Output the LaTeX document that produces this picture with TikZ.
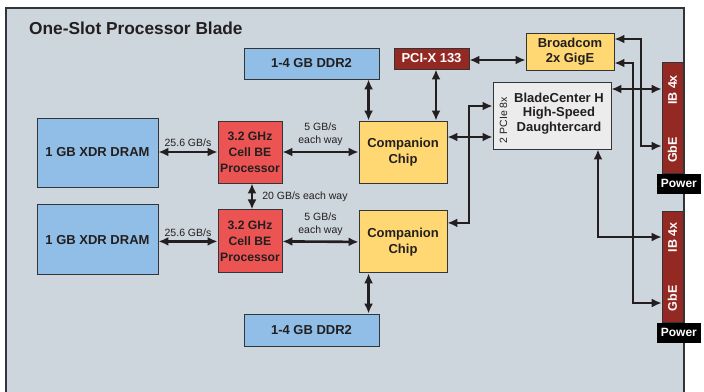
\documentclass[tikz,border=0pt]{standalone}
\usepackage{fontspec}
\setmainfont{Liberation Sans}
\usepackage{tikz}
\usetikzlibrary{positioning,calc,arrows.meta}
\definecolor{panelgray}{RGB}{205,213,221}
\definecolor{edgegray}{RGB}{50,52,56}
\definecolor{inkdark}{RGB}{35,31,32}
\definecolor{memblue}{RGB}{144,190,230}
\definecolor{cellred}{RGB}{236,84,84}
\definecolor{chipyellow}{RGB}{255,216,115}
\definecolor{portred}{RGB}{148,40,34}
\definecolor{cardgray}{RGB}{236,236,236}

\begin{document}
\begin{tikzpicture}[
  x=1pt, y=-1pt,
  every node/.style={align=center, inner sep=0pt, text=inkdark},
  box/.style={rectangle, draw=edgegray, line width=0.9pt, font=\fontsize{13}{15.5}\selectfont\bfseries},
  mem/.style={box, fill=memblue},
  cpu/.style={box, fill=cellred, minimum width=64pt, font=\fontsize{12.2}{16}\selectfont\bfseries},
  chip/.style={box, fill=chipyellow},
  pci/.style={box, fill=portred, text=white},
  card/.style={box, fill=cardgray, font=\fontsize{13}{14.5}\selectfont\bfseries},
  bar/.style={rectangle, fill=portred, draw=edgegray, line width=0.6pt, minimum width=21pt, minimum height=111pt},
  barlabel/.style={rotate=90, text=white, font=\fontsize{12.5}{14}\selectfont\bfseries},
  pwr/.style={rectangle, fill=black, text=white, minimum width=44pt, minimum height=20pt, font=\fontsize{12}{14}\selectfont\bfseries},
  rate/.style={font=\fontsize{10.5}{13}\selectfont},
  arr/.style={{Latex[length=10pt,width=9pt]}-{Latex[length=10pt,width=9pt]}, line width=2.6pt, draw=inkdark}
]
\useasboundingbox (0,0) rectangle (704,391);
% Blade panel
\fill[panelgray] (6,8) rectangle (684,392);
\draw[edgegray, line width=1.2pt] (6,392) -- (6,8) -- (684,8) -- (684,392);
\node[anchor=west, font=\fontsize{17.3}{20}\selectfont\bfseries] (title) at (29,28) {One-Slot Processor Blade};
% Memory
\node[mem, minimum width=135pt, minimum height=31pt] (ddrtop) at (311.5,63.5) {1-4 GB DDR2};
\node[mem, minimum width=135pt, minimum height=32pt] (ddrbot) at (311.5,330) {1-4 GB DDR2};
\node[mem, minimum width=121pt, minimum height=69pt] (xdrtop) at (97.5,152.5) {1 GB XDR DRAM};
\node[mem, minimum width=121pt, minimum height=70pt, below=17pt of xdrtop] (xdrbot) {1 GB XDR DRAM};
% Processors and companion chips
\node[cpu, minimum height=62pt] (celltop) at (250,152) {3.2 GHz\\Cell BE\\Processor};
\node[cpu, minimum height=63pt, below=26pt of celltop] (cellbot) {3.2 GHz\\Cell BE\\Processor};
\node[chip, minimum width=88pt, minimum height=62pt] (comptop) at (403,152) {Companion\\Chip};
\node[chip, minimum width=88pt, minimum height=62pt, below=27pt of comptop] (compbot) {Companion\\Chip};
% I/O
\node[pci, minimum width=75pt, minimum height=21pt] (pcix) at (431.5,58.5) {PCI-X 133};
\node[chip, minimum width=88pt, minimum height=37pt] (broadcom) at (570,51.5) {Broadcom\\2x GigE};
\node[card, minimum width=118pt, minimum height=67pt] (bch) at (552,115.5) {};
\node[font=\fontsize{13}{14.5}\selectfont\bfseries] (bchtext) at ([xshift=7pt,yshift=2pt]bch.center) {BladeCenter H\\High-Speed\\Daughtercard};
\node[rotate=90, font=\fontsize{10.5}{12}\selectfont] (pcie) at ([xshift=11pt,yshift=-4.5pt]bch.west) {2 PCIe 8x};
% Connector bars
\node[bar] (bartop) at (672.5,117.5) {};
\node[bar] (barbot) at (672.5,266.5) {};
\node[barlabel] (ibtop) at ([yshift=27.5pt]bartop.center) {IB 4x};
\node[barlabel] (gbetop) at ([yshift=-32.5pt]bartop.center) {GbE};
\node[barlabel] (ibbot) at ([yshift=29pt]barbot.center) {IB 4x};
\node[barlabel] (gbebot) at ([yshift=-32pt]barbot.center) {GbE};
\node[pwr, anchor=north west] (pwrtop) at ([xshift=-5pt]bartop.south west) {Power};
\node[pwr, anchor=north west] (pwrbot) at ([xshift=-5pt]barbot.south west) {Power};
% Turning points
\coordinate (pcieturn) at (469,106);
\coordinate (gbeturna) at (641,146);
\coordinate (gbeturnb) at (633,303);
\coordinate (ibturn) at (598,237);
% Arrows
\draw[arr] (xdrtop.east |- celltop.west) -- node[rate, midway, above=4pt] {25.6 GB/s} (celltop.west);
\draw[arr] (xdrbot.east |- cellbot.west) -- node[rate, midway, above=4pt] {25.6 GB/s} (cellbot.west);
\draw[arr] (celltop.east) -- node[rate, midway, above=5pt] {5 GB/s\\each way} (comptop.west);
\draw[arr] (cellbot.east) -- node[rate, midway, above=5pt] {5 GB/s\\each way} (compbot.west);
\draw[arr] ([xshift=2pt]celltop.south) -- node[rate, midway, right=9pt] {20 GB/s each way} ([xshift=2pt]cellbot.north);
\draw[arr] ([xshift=10pt]comptop.north west) -- ([xshift=10pt]comptop.north west |- ddrtop.south);
\draw[arr] ([xshift=10pt]compbot.south west) -- ([xshift=10pt]compbot.south west |- ddrbot.north);
\draw[arr] ([xshift=4.5pt]pcix.south) -- ([xshift=4.5pt]pcix.south |- comptop.north);
\draw[arr] ([yshift=-1.5pt]pcix.east) -- ([yshift=-1.5pt]pcix.east -| broadcom.west);
\draw[arr] ([yshift=15pt]comptop.east) -- ([yshift=15pt]comptop.east -| bch.west);
\draw[arr] ([yshift=19pt]compbot.east) -| (pcieturn) -- (pcieturn -| bch.west);
\draw[arr] ([yshift=26.5pt]bch.east) -- ([yshift=26.5pt]bch.east -| bartop.west);
\draw[arr] ([yshift=12.5pt]broadcom.east) -| (gbeturna) -- (gbeturna -| bartop.west);
\draw[arr] ([yshift=-11.5pt]broadcom.east) -| (gbeturnb) -- (gbeturnb -| barbot.west);
\draw[arr] ([xshift=46pt]bch.south) -- (ibturn) -- (ibturn -| barbot.west);
\end{tikzpicture}
\end{document}
